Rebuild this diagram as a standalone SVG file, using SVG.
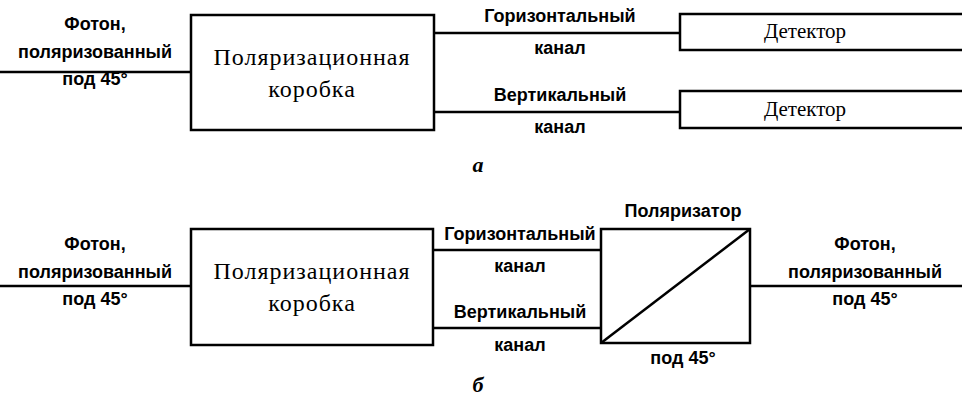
<svg xmlns="http://www.w3.org/2000/svg" width="962" height="402" viewBox="0 0 962 402">
<style>
.b{fill:none;stroke:#000;stroke-width:2.5}
.l{stroke:#000;stroke-width:2.5;fill:none}
.s{font-family:"Liberation Sans",Arial,sans-serif;font-size:18px;font-weight:bold;text-anchor:middle;fill:#000}
.r{font-family:"Liberation Serif","Times New Roman",serif;font-size:24px;letter-spacing:1px;text-anchor:middle;fill:#000}
.d{font-family:"Liberation Serif","Times New Roman",serif;font-size:21px;text-anchor:middle;fill:#000}
.i{font-family:"Liberation Serif",serif;font-size:22px;font-style:italic;font-weight:bold;text-anchor:middle}
</style>
<rect width="962" height="402" fill="#fff"/>
<g id="connectors">
<line class="l" x1="0" y1="72" x2="191" y2="72"/>
<line class="l" x1="434" y1="33" x2="680" y2="33"/>
<line class="l" x1="434" y1="112" x2="680" y2="112"/>
<line class="l" x1="0" y1="286" x2="191" y2="286"/>
<line class="l" x1="433" y1="250" x2="601" y2="250"/>
<line class="l" x1="433" y1="328" x2="601" y2="328"/>
<line class="l" x1="750" y1="286" x2="962" y2="286"/>
</g>
<g id="in1"><text class="s" x="95" y="30">Фотон,</text><text class="s" x="95" y="58">поляризованный</text><text class="s" x="95" y="85">под 45°</text></g>
<g id="box1"><rect class="b" x="191" y="15" width="243" height="115"/><text class="r" x="312" y="65">Поляризационная</text><text class="r" x="312" y="97">коробка</text></g>
<g id="lab1"><text class="s" x="560" y="22">Горизонтальный</text><text class="s" x="560" y="54">канал</text><text class="s" x="560" y="101">Вертикальный</text><text class="s" x="560" y="133">канал</text></g>
<g id="det1"><rect class="b" x="680" y="14" width="290" height="36"/><text class="d" x="805" y="38">Детектор</text></g>
<g id="det2"><rect class="b" x="680" y="91" width="290" height="37"/><text class="d" x="805" y="116">Детектор</text></g>
<text class="i" x="478" y="172">а</text>
<g id="in2"><text class="s" x="95" y="250">Фотон,</text><text class="s" x="95" y="278">поляризованный</text><text class="s" x="95" y="305">под 45°</text></g>
<g id="box2"><rect class="b" x="191" y="229" width="242" height="116"/><text class="r" x="312" y="279">Поляризационная</text><text class="r" x="312" y="311">коробка</text></g>
<g id="lab2"><text class="s" x="520" y="240">Горизонтальный</text><text class="s" x="520" y="272">канал</text><text class="s" x="520" y="318">Вертикальный</text><text class="s" x="520" y="351">канал</text></g>
<g id="pol"><rect class="b" x="601" y="229" width="149" height="114"/><line class="l" x1="601" y1="343" x2="750" y2="229" stroke-width="3"/><text class="s" x="683" y="217">Поляризатор</text><text class="s" x="683" y="364">под 45°</text></g>
<g id="out2"><text class="s" x="865" y="250">Фотон,</text><text class="s" x="865" y="278">поляризованный</text><text class="s" x="865" y="305">под 45°</text></g>
<text class="i" x="478" y="392">б</text>
</svg>
